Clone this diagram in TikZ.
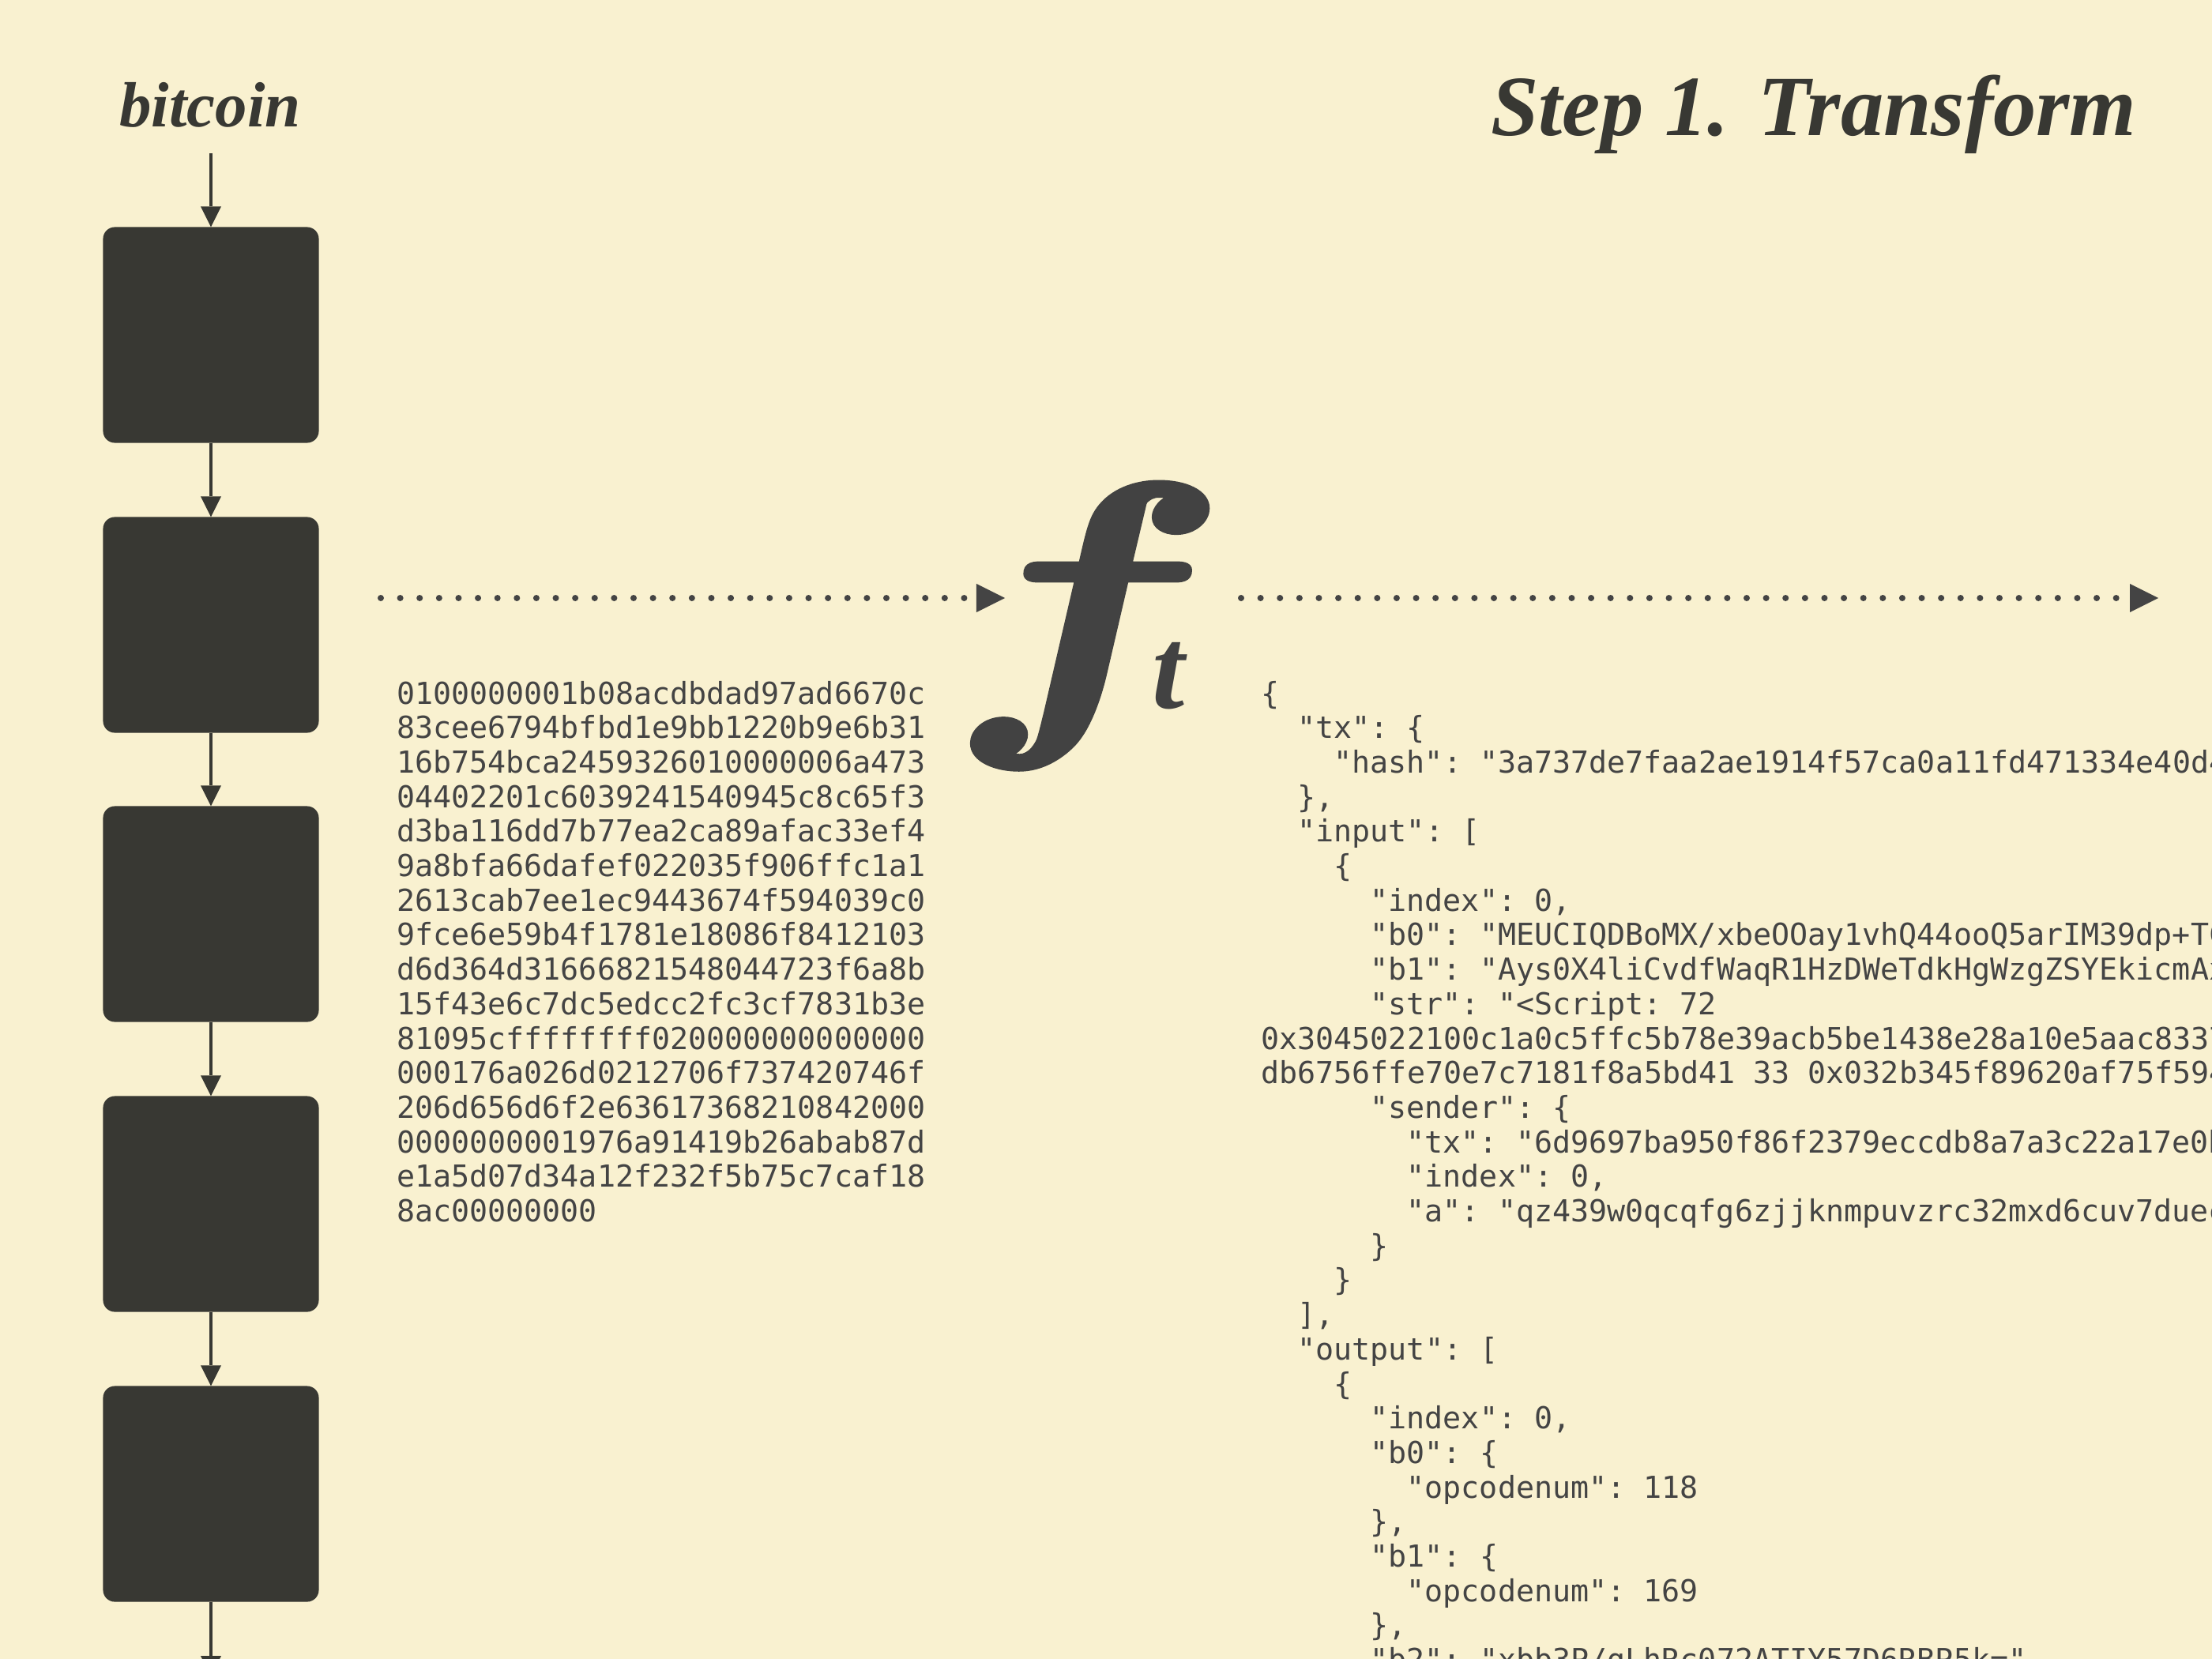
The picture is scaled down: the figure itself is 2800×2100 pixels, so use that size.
\documentclass[tikz,border=0pt]{standalone}
\usepackage{fix-cm}
\usepackage{amsmath}
\usepackage{fontspec}
\setmainfont{Liberation Serif}
\setmonofont{DejaVu Sans Mono}
\usetikzlibrary{arrows.meta}
\definecolor{paper}{HTML}{F9F1D0}
\definecolor{ink}{HTML}{383833}
\definecolor{code}{HTML}{444444}
\definecolor{fcol}{HTML}{424242}

\begin{document}
\begin{tikzpicture}[x=0.01cm, y=-0.01cm]
    \tikzstyle{block}=[fill=ink, rounded corners=0.15cm, minimum size=2.73cm, inner sep=0, outer sep=0]
    \tikzstyle{link}=[draw=ink, line width=0.04cm, -{Triangle[width=0.26cm, length=0.26cm, line width=0pt]}]
    \tikzstyle{flow}=[draw=code, line width=0.08cm, line cap=round, dash pattern=on 0pt off 0.246cm, -{Triangle[width=0.36cm, length=0.36cm, line width=0pt]}]
    \tikzstyle{hexline}=[anchor=base west, inner sep=0, text=code, font=\ttfamily\fontsize{10.9}{12}\selectfont]
    \tikzstyle{heading}=[inner sep=0, text=ink]
    \clip (0,0) rectangle (2800,2100);
    \fill[paper] (0,0) rectangle (2800,2100);

    % chain of blocks
    \node[heading, anchor=base, font=\bfseries\itshape\fontsize{23}{24}\selectfont] (chain) at (266,160) {bitcoin};
    \coordinate (feed) at (267,194);
    \node[block] (b1) at (267,424) {};
    \node[block] (b2) at (267,791) {};
    \node[block] (b3) at (267,1157) {};
    \node[block] (b4) at (267,1524) {};
    \node[block] (b5) at (267,1891) {};
    \coordinate (tail) at (267,2122);
    \draw[link] (feed) -- (b1);
    \draw[link] (b1) -- (b2);
    \draw[link] (b2) -- (b3);
    \draw[link] (b3) -- (b4);
    \draw[link] (b4) -- (b5);
    \draw[link] (b5) -- (tail);

    \node[heading, anchor=base east, font=\bfseries\itshape\fontsize{30.9}{32}\selectfont] (title) at (2705,172) {Step 1. Transform};

    % transform function
    \node[anchor=base west, inner sep=0, xscale=1.3, text=fcol, font=\fontsize{113.6}{114}\selectfont] (fn) at (1200,892)
        {\special{pdf:literal direct 2 Tr 2.3 w}$\boldsymbol{f}$\special{pdf:literal direct 0 Tr}};
    \node[anchor=base west, inner sep=0, text=fcol, font=\bfseries\itshape\fontsize{42}{43}\selectfont] (tn) at (1458,896) {t};
    \coordinate (rawfrom) at (482,757);
    \coordinate (rawto) at (1272,757);
    \coordinate (jsonfrom) at (1571,757);
    \coordinate (jsonto) at (2732,757);
    \draw[flow] (rawfrom) -- (rawto);
    \draw[flow] (jsonfrom) -- (jsonto);

    % raw transaction
    \foreach \hx [count=\i from 0] in {0100000001b08acdbdad97ad6670c, 83cee6794bfbd1e9bb1220b9e6b31,
        16b754bca2459326010000006a473, 04402201c6039241540945c8c65f3, d3ba116dd7b77ea2ca89afac33ef4,
        9a8bfa66dafef022035f906ffc1a1, 2613cab7ee1ec9443674f594039c0, 9fce6e59b4f1781e18086f8412103,
        d6d364d31666821548044723f6a8b, 15f43e6c7dc5edcc2fc3cf7831b3e, 81095cffffffff020000000000000,
        000176a026d0212706f737420746f, 206d656d6f2e63617368210842000, 0000000001976a91419b26abab87d,
        e1a5d07d34a12f232f5b75c7caf18, 8ac00000000}
        \node[hexline] (hex\i) at (501.5, 891+\i*43.7) {\hx};

    % decoded json
    \foreach \ind/\js [count=\i from 0] in {0/{\{}, 2/{"tx": \{},
        4/{"hash": "3a737de7faa2ae1914f57ca0a11fd471334e40d4c0f2"},
        2/{\},}, 2/{"input": [}, 4/{\{}, 6/{"index": 0,},
        6/{"b0": "MEUCIQDBoMX/xbeOOay1vhQ44ooQ5arIM39dp+TC2k"},
        6/{"b1": "Ays0X4liCvdfWaqR1HzDWeTdkHgWzgZSYEkicmAx"},
        6/{"str": "<Script: 72},
        0/{0x3045022100c1a0c5ffc5b78e39acb5be1438e28a10e5aac8337a},
        0/{db6756ffe70e7c7181f8a5bd41 33 0x032b345f89620af75f5946},
        6/{"sender": \{},
        8/{"tx": "6d9697ba950f86f2379eccdb8a7a3c22a17e0b1"},
        8/{"index": 0,},
        8/{"a": "qz439w0qcqfg6zjjknmpuvzrc32mxd6cuv7duec4"},
        6/{\}}, 4/{\}}, 2/{],}, 2/{"output": [}, 4/{\{}, 6/{"index": 0,},
        6/{"b0": \{}, 8/{"opcodenum": 118}, 6/{\},},
        6/{"b1": \{}, 8/{"opcodenum": 169}, 6/{\},},
        6/{"b2": "xbb3P/gLhRc072ATIY57D6RBP5k="}}
        \node[hexline] (json\i) at (1595.7+\ind*23.03, 891+\i*43.7) {\js};
\end{tikzpicture}
\end{document}
